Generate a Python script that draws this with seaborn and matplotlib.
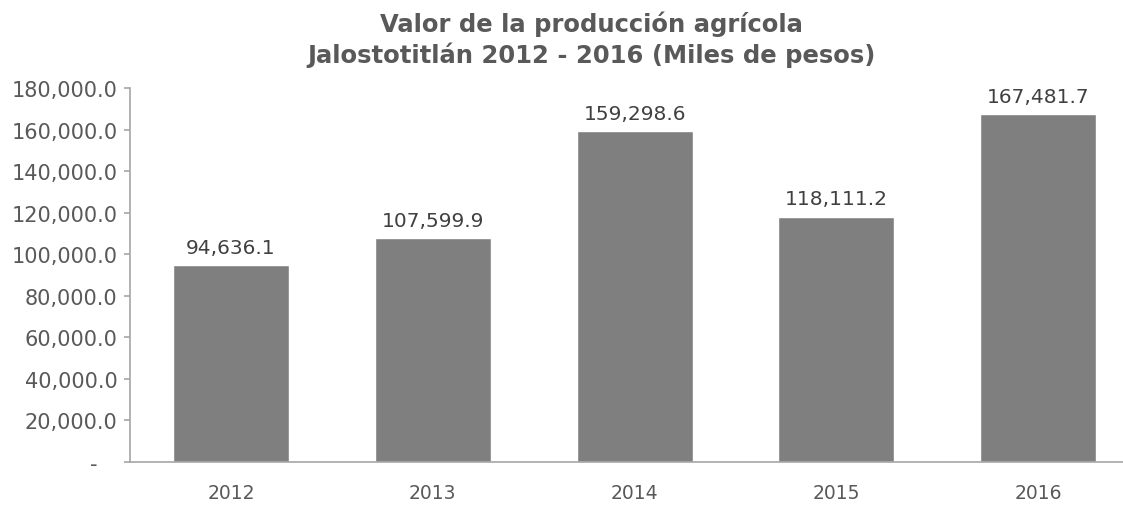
import matplotlib
matplotlib.use("Agg")
import matplotlib.pyplot as plt
import seaborn as sns
import pandas as pd
from matplotlib.ticker import FuncFormatter

# datos
years = ["2012", "2013", "2014", "2015", "2016"]
valores = [94636.1, 107599.9, 159298.6, 118111.2, 167481.7]
etiquetas = ["94,636.1", "107,599.9", "159,298.6", "118,111.2", "167,481.7"]

df = pd.DataFrame({"anio": years, "valor": valores})

sns.set_theme(style="white")
plt.rcParams["font.family"] = ["DejaVu Sans"]

fig = plt.figure(figsize=(11.23, 5.06), dpi=100)
ax = fig.add_axes([130 / 1123, 1 - 463 / 506, (1123 - 130) / 1123, (463 - 89) / 506])

sns.barplot(data=df, x="anio", y="valor", color="#7f7f7f", saturation=1,
            width=0.575, ax=ax)

ax.set_xlim(-0.5, 4.42)
ax.set_ylim(0, 180000)
ax.set_yticks(range(0, 180001, 20000))
ax.yaxis.set_major_formatter(FuncFormatter(lambda v, p: "-   " if v == 0 else f"{v:,.1f}"))

for i, (v, t) in enumerate(zip(valores, etiquetas)):
    ax.annotate(t, (i, v), xytext=(0, 6), textcoords="offset points",
                ha="center", va="bottom", fontsize=14.5, color="#404040")

ax.set_xlabel("")
ax.set_ylabel("")
for s in ["top", "right"]:
    ax.spines[s].set_visible(False)
ax.spines["left"].set_color("#a6a6a6")
ax.spines["bottom"].set_color("#a6a6a6")
ax.spines["left"].set_linewidth(1.2)
ax.spines["bottom"].set_linewidth(1.2)
ax.tick_params(axis="y", left=True, length=4, width=1.2, color="#a6a6a6",
               labelsize=15, labelcolor="#595959", pad=5)
ax.tick_params(axis="x", bottom=False, labelsize=13.5, labelcolor="#595959", pad=9)

fig.text(0.527, 0.978, "Valor de la producción agrícola\nJalostotitlán 2012 - 2016 (Miles de pesos)",
         ha="center", va="top", fontsize=17.5, fontweight="bold", color="#595959",
         linespacing=1.3)

fig.savefig("out.png", dpi=100)
